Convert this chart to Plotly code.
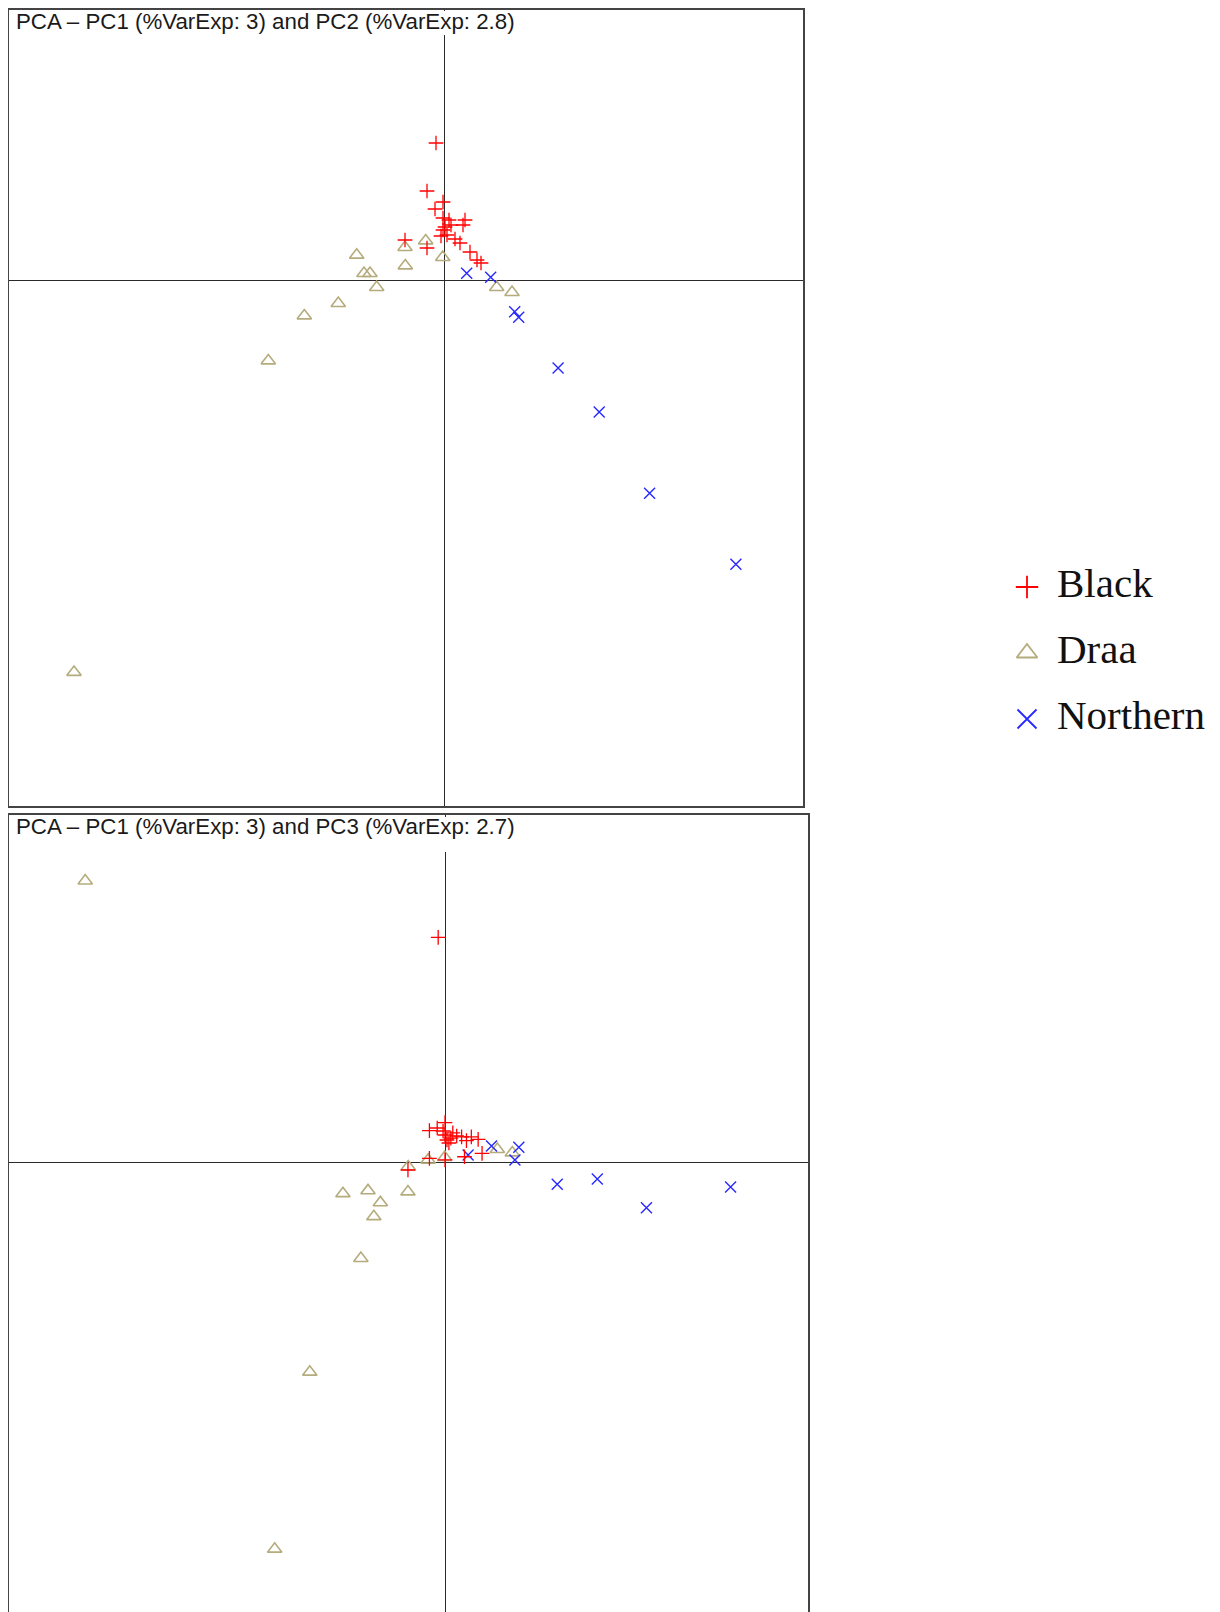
import plotly.graph_objects as go

# page has an 8px body margin, so the figure is laid out 8px in from the window corner
OFF = 8
W, H = 1220 - OFF, 1612 - OFF

# ---------------- data (PCA scores) ----------------
groups = ["Black", "Draa", "Northern"]

pc1_black = [-0.08, -0.17, -0.01, -0.09, -0.01, 0.05, 0.07, 0.01, -0.01, 0.03,
             -0.03, 0.21, 0.19, 0.11, 0.16, -0.39, -0.17, 0.26, 0.33, 0.37]
pc2_black = [1.375, 0.895, 0.785, 0.715, 0.625, 0.605, 0.555, 0.535, 0.505, 0.455,
             0.445, 0.605, 0.555, 0.415, 0.375, 0.405, 0.325, 0.285, 0.205, 0.175]
pc3_black = [2.309, 0.326, 0.408, 0.354, 0.282, 0.251, 0.303, 0.231, 0.026, 0.200,
             0.323, 0.224, 0.059, 0.272, 0.262, -0.077, 0.043, 0.262, 0.238, 0.094]

pc1_draa = [-0.873, -0.80, -0.74, -0.673, -1.057, -1.397, -1.757, -3.70, -0.39, -0.387,
            -0.183, -0.013, 0.527, 0.68]
pc2_draa = [0.255, 0.072, 0.072, -0.068, -0.228, -0.352, -0.802, -3.917, 0.332, 0.148,
            0.398, 0.232, -0.068, -0.118]
pc3_draa = [-0.983, -0.289, -0.554, -0.412, -0.318, -2.149, -3.964, 2.889, -0.30, -0.043,
            0.026, 0.053, 0.135, 0.10]

pc1_north = [0.227, 0.467, 0.707, 0.747, 1.141, 1.552, 2.056, 2.919]
pc2_north = [0.072, 0.032, -0.312, -0.368, -0.875, -1.316, -2.128, -2.838]
pc3_north = [0.077, 0.169, 0.026, 0.156, -0.224, -0.168, -0.464, -0.252]

var_exp = {"PC1": "3", "PC2": "2.8", "PC3": "2.7"}

# ---------------- styles ----------------
colors = {"Black": "rgb(255,0,0)", "Draa": "rgb(180,172,125)", "Northern": "rgb(40,40,255)"}
symbols = {"Black": "cross-thin", "Draa": "triangle-up-open", "Northern": "x-thin"}
plot_sizes = {"Black": 10.5, "Draa": 12.5, "Northern": 11}
plot_lw = {"Black": 1.3, "Draa": 1.6, "Northern": 1.4}
legend_sizes = {"Black": 16, "Draa": 18, "Northern": 19}

data = {
    "Black": (pc1_black, pc2_black, pc3_black),
    "Draa": (pc1_draa, pc2_draa, pc3_draa),
    "Northern": (pc1_north, pc2_north, pc3_north),
}

def px_x(p):
    return (p - OFF) / W

def px_y(p):
    return 1 - (p - OFF) / H

fig = go.Figure()

draw_order = ["Draa", "Northern", "Black"]
for g in draw_order:
    x, y2, y3 = data[g]
    mk = dict(symbol=symbols[g], size=plot_sizes[g], color=colors[g],
              line=dict(color=colors[g], width=plot_lw[g]))
    fig.add_trace(go.Scatter(x=x, y=y2, mode="markers", marker=mk, name=g,
                             showlegend=False, xaxis="x", yaxis="y", hoverinfo="skip"))
    fig.add_trace(go.Scatter(x=x, y=y3, mode="markers", marker=mk, name=g,
                             showlegend=False, xaxis="x2", yaxis="y2", hoverinfo="skip"))

# legend (drawn as its own small panel)
for i, g in enumerate(groups):
    fig.add_trace(go.Scatter(x=[27], y=[i], mode="markers",
                             marker=dict(symbol=symbols[g], size=legend_sizes[g], color=colors[g],
                                         line=dict(color=colors[g], width=1.8)),
                             showlegend=False, xaxis="x3", yaxis="y3", hoverinfo="skip"))
    fig.add_trace(go.Scatter(x=[57], y=[i], mode="text", text=[g], textposition="middle right",
                             textfont=dict(family="Liberation Serif", size=41, color="#111"),
                             showlegend=False, xaxis="x3", yaxis="y3", hoverinfo="skip"))

axcommon = dict(showgrid=False, showticklabels=False, ticks="", zeroline=True,
                zerolinecolor="#2a2a2a", zerolinewidth=1.3, fixedrange=True)

title_font = dict(family="Liberation Sans", size=22.3, color="#1a1a1a")

# white bands behind the panel titles (the centre line stops below the title)
title_bands = [(11, 35), (817, 852)]
shapes = [dict(type="line", xref="paper", yref="paper", x0=0, x1=px_x(803),
               y0=1, y1=1, line=dict(color="#444", width=1.5))]
for y0, y1 in title_bands:
    shapes.append(dict(type="rect", xref="paper", yref="paper", layer="above",
                       x0=px_x(12), x1=px_x(515), y0=px_y(y1), y1=px_y(y0),
                       fillcolor="white", line=dict(width=0)))

fig.update_layout(
    width=W, height=H,
    margin=dict(l=0, r=0, t=0, b=0),
    paper_bgcolor="white", plot_bgcolor="white",
    showlegend=False,
    xaxis=dict(domain=[px_x(9), px_x(803)], range=[-4.35, 3.59], anchor="y",
               showline=True, mirror=True, linecolor="#444", linewidth=1.5, **axcommon),
    yaxis=dict(domain=[px_y(806), px_y(9.5)], range=[-5.255, 2.71], anchor="x",
               showline=True, mirror=True, linecolor="#444", linewidth=1.5, **axcommon),
    xaxis2=dict(domain=[px_x(9), px_x(808)], range=[-4.482, 3.713], anchor="y2", side="top",
                showline=True, mirror=False, linecolor="#444", linewidth=1.5, **axcommon),
    yaxis2=dict(domain=[0, px_y(815)], range=[-4.61, 3.564], anchor="x2",
                showline=True, mirror=True, linecolor="#444", linewidth=1.5, **axcommon),
    xaxis3=dict(domain=[px_x(1000), 1], range=[0, 220], anchor="y3", visible=False, fixedrange=True),
    yaxis3=dict(domain=[px_y(752), px_y(554)], range=[2.5, -0.5], anchor="x3", visible=False,
                fixedrange=True),
    shapes=shapes,
    annotations=[
        dict(xref="paper", yref="paper", x=px_x(13.5), y=px_y(21.5), xanchor="left", yanchor="middle",
             showarrow=False,
             text=f"PCA – PC1 (%VarExp: {var_exp['PC1']}) and PC2 (%VarExp: {var_exp['PC2']})",
             font=title_font),
        dict(xref="paper", yref="paper", x=px_x(13.5), y=px_y(826.5), xanchor="left", yanchor="middle",
             showarrow=False,
             text=f"PCA – PC1 (%VarExp: {var_exp['PC1']}) and PC3 (%VarExp: {var_exp['PC3']})",
             font=title_font),
    ],
)

fig.write_html("out.html")
